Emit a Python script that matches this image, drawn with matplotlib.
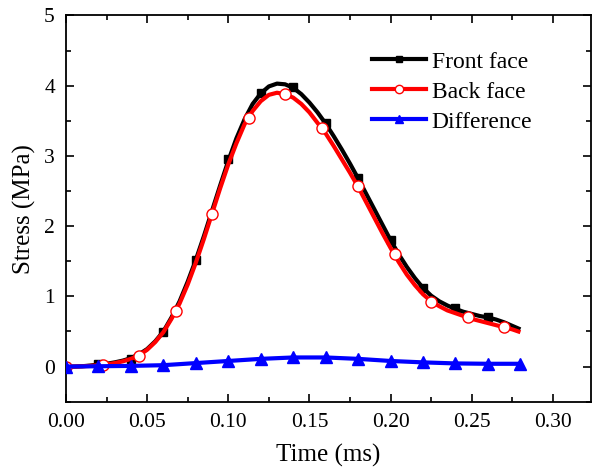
import matplotlib
matplotlib.use("Agg")
import matplotlib.pyplot as plt
from matplotlib.ticker import MultipleLocator, FormatStrFormatter

plt.rcParams['font.family'] = ['Liberation Serif', 'DejaVu Serif']

# Smooth curves
t_line = [0.000, 0.005, 0.010, 0.015, 0.020, 0.025, 0.030, 0.035, 0.040, 0.045,
          0.050, 0.055, 0.060, 0.065, 0.070, 0.075, 0.080, 0.085, 0.090, 0.095,
          0.100, 0.105, 0.110, 0.115, 0.120, 0.125, 0.130, 0.135, 0.140, 0.145,
          0.150, 0.155, 0.160, 0.165, 0.170, 0.175, 0.180, 0.185, 0.190, 0.195,
          0.200, 0.205, 0.210, 0.215, 0.220, 0.225, 0.230, 0.235, 0.240, 0.245,
          0.250, 0.255, 0.260, 0.265, 0.270, 0.275, 0.280]
front_line = [0.0, 0.0, 0.005, 0.015, 0.03, 0.04, 0.06, 0.085, 0.12, 0.175,
              0.25, 0.36, 0.50, 0.70, 0.93, 1.21, 1.52, 1.86, 2.22, 2.58,
              2.93, 3.25, 3.52, 3.74, 3.89, 3.99, 4.03, 4.02, 3.97, 3.88,
              3.76, 3.62, 3.46, 3.28, 3.09, 2.89, 2.68, 2.46, 2.24, 2.02,
              1.80, 1.60, 1.42, 1.26, 1.12, 1.01, 0.93, 0.87, 0.82, 0.78,
              0.75, 0.72, 0.70, 0.67, 0.63, 0.58, 0.53]
back_line = [0.0, 0.0, 0.004, 0.01, 0.02, 0.03, 0.05, 0.075, 0.11, 0.16,
             0.24, 0.35, 0.49, 0.68, 0.90, 1.17, 1.48, 1.82, 2.18, 2.54,
             2.88, 3.18, 3.45, 3.64, 3.78, 3.87, 3.90, 3.88, 3.83, 3.74,
             3.62, 3.47, 3.32, 3.14, 2.95, 2.76, 2.56, 2.34, 2.12, 1.90,
             1.69, 1.49, 1.31, 1.16, 1.03, 0.93, 0.86, 0.80, 0.76, 0.72,
             0.68, 0.65, 0.62, 0.59, 0.56, 0.53, 0.49]

# Marker points
t_front = [0.00, 0.02, 0.04, 0.06, 0.08, 0.10, 0.12, 0.14, 0.16, 0.18, 0.20, 0.22, 0.24, 0.26]
front_pts = [0.0, 0.03, 0.11, 0.49, 1.52, 2.95, 3.90, 3.98, 3.47, 2.69, 1.80, 1.12, 0.83, 0.71]
t_back = [0.0, 0.0225, 0.045, 0.0675, 0.09, 0.1125, 0.135, 0.1575, 0.18, 0.2025, 0.225, 0.2475, 0.27]
back_pts = [0.0, 0.02, 0.15, 0.79, 2.18, 3.54, 3.88, 3.40, 2.57, 1.60, 0.92, 0.70, 0.56]
t_diff = [0.00, 0.02, 0.04, 0.06, 0.08, 0.10, 0.12, 0.14, 0.16, 0.18, 0.20, 0.22, 0.24, 0.26, 0.28]
diff_pts = [0.0, 0.005, 0.01, 0.02, 0.05, 0.08, 0.11, 0.13, 0.13, 0.11, 0.08, 0.06, 0.045, 0.04, 0.04]

fig = plt.figure(figsize=(5.92, 4.69), dpi=100)
ax = fig.add_axes([66/592, 1-401.7/469, (591-66)/592, (401.7-15.5)/469])

lw = 3.0
ax.plot(t_line, front_line, color='black', lw=lw, zorder=2, solid_capstyle='butt')
ax.plot(t_front, front_pts, ls='none', marker='s', color='black', ms=6, zorder=1)
ax.plot(t_line, back_line, color='red', lw=lw, zorder=3, solid_capstyle='butt')
ax.plot(t_back, back_pts, ls='none', marker='o', mfc='white', mec='red', mew=1.0, ms=8, zorder=4)
ax.plot(t_diff, diff_pts, color='blue', lw=lw, marker='^', ms=8, zorder=5, solid_capstyle='butt')

# legend proxies
h1, = ax.plot([], [], color='black', lw=lw, marker='s', ms=5)
h2, = ax.plot([], [], color='red', lw=lw, marker='o', mfc='white', mec='red', ms=6)
h3, = ax.plot([], [], color='blue', lw=lw, marker='^', ms=6)
leg = fig.legend([h1, h2, h3], ['Front face', 'Back face', 'Difference'],
                 loc='upper left', bbox_to_anchor=(372/592, 1-51/469), frameon=False,
                 fontsize=17, handlelength=2.3, handletextpad=0.22, labelspacing=0.36,
                 borderpad=0, borderaxespad=0)

ax.set_xlim(0, 0.3235)
ax.set_ylim(-0.5, 5)
ax.xaxis.set_major_locator(MultipleLocator(0.05))
ax.xaxis.set_minor_locator(MultipleLocator(0.025))
ax.yaxis.set_major_locator(MultipleLocator(1))
ax.yaxis.set_minor_locator(MultipleLocator(0.5))
ax.xaxis.set_major_formatter(FormatStrFormatter('%.2f'))
ax.tick_params(which='both', direction='in', top=True, right=True, labelsize=15.5, width=1.2)
ax.tick_params(which='major', length=6, pad=8)
ax.tick_params(which='minor', length=3.5)
for s in ax.spines.values():
    s.set_linewidth(1.3)

ax.set_xlabel('Time (ms)', fontsize=18, labelpad=9)
ax.set_ylabel('Stress (MPa)', fontsize=18, labelpad=6)

fig.savefig('out.png', dpi=100)
